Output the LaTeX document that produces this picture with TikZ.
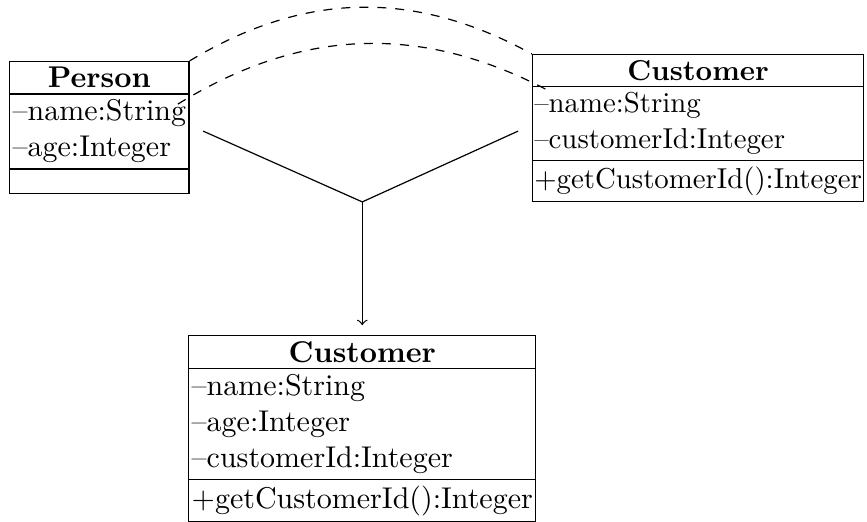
\documentclass[tikz,border=0pt]{standalone}
\usetikzlibrary{shapes.multipart,positioning}
\begin{document}
\begin{tikzpicture}[x=1pt,y=1pt]
\tikzset{classe/.style={draw, rectangle split, rectangle split parts=3,
  rectangle split part align={center,left,left}, align=left,
  inner xsep=1pt, inner ysep=1.75pt, anchor=north west}}
\useasboundingbox (0,0) rectangle (289,-173.7);
\node[classe] (Person) at (3,-20.3) {\textbf{Person}
  \nodepart{two} --name:String\\--age:Integer
  \nodepart{three}};
\node[classe, inner xsep=0.6pt, font=\fontsize{9.6pt}{12pt}\selectfont] (Customer) at (177.3,-18) {\textbf{Customer}
  \nodepart{two} --name:String\\--customerId:Integer
  \nodepart{three} +getCustomerId():Integer};
\node[classe] (Merged) at (62.7,-111.7) {\textbf{Customer}
  \nodepart{two} --name:String\\--age:Integer\\--customerId:Integer
  \nodepart{three} +getCustomerId():Integer};
\coordinate (A) at (67.7,-43.7);
\coordinate (B) at (172.7,-43.7);
\path (Merged.north) ++(0,44.4) coordinate (J);
\coordinate (P2) at (59.3,-34.7);
\coordinate (C2) at (184.3,-31);
\draw[dashed] (Person.north east) to[bend left=30] (Customer.north west);
\draw[dashed] (P2) to[bend left=30] (C2);
\draw (A) -- (J);
\draw (B) -- (J);
\draw[->, shorten >=3.3pt] (J) -- (Merged.north);
\end{tikzpicture}
\end{document}
